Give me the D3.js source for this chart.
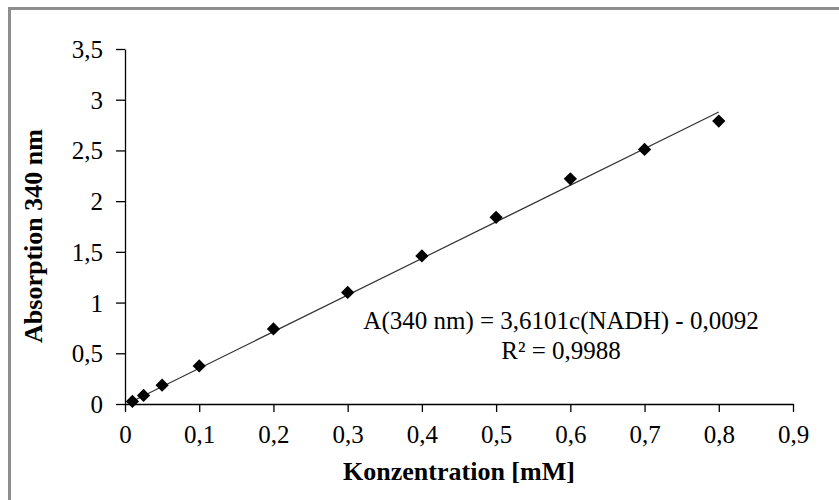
<!DOCTYPE html>
<html>
<head>
<meta charset="utf-8">
<script src="https://cdn.jsdelivr.net/npm/d3@7"></script>
<style>
  body { margin: 0; background: #fff; }
  svg { display: block; font-family: "Liberation Serif", "Times New Roman", serif; }
</style>
</head>
<body>
<div id="chart"></div>
<script>
// concentration in mM
const concentrations = [0.01, 0.025, 0.05, 0.1, 0.2, 0.3, 0.4, 0.5, 0.6, 0.7, 0.8]
// measured absorption at 340 nm
const absorptions = [0.025, 0.085, 0.185, 0.375, 0.74, 1.1, 1.46, 1.84, 2.22, 2.51, 2.79]
const xTicks = [0, 0.1, 0.2, 0.3, 0.4, 0.5, 0.6, 0.7, 0.8, 0.9]
const yTicks = [0, 0.5, 1, 1.5, 2, 2.5, 3, 3.5]
const slope = 3.6101
const intercept = -0.0092
const equationLines = ['A(340 nm) = 3,6101c(NADH) - 0,0092', 'R² = 0,9988']

const WIDTH = 839
const HEIGHT = 500

const fmt = (d) => String(d).replace('.', ',')

const svg = d3.select('#chart').append('svg')
  .attr('width', WIDTH)
  .attr('height', HEIGHT)

// outer chart frame (runs off the right and bottom edge)
svg.append('rect')
  .attr('x', 9.5).attr('y', 8.5)
  .attr('width', 1000).attr('height', 1000)
  .attr('fill', 'none')
  .attr('stroke', '#8e8e8e')
  .attr('stroke-width', 3)

const x = d3.scaleLinear().domain([0, 0.9]).range([125, 793])
const y = d3.scaleLinear().domain([0, 3.5]).range([404, 49])

const xAxis = svg.append('g')
  .attr('transform', `translate(0,${y(0)})`)
  .call(d3.axisBottom(x).tickValues(xTicks).tickFormat(fmt).tickSizeInner(8).tickSizeOuter(0).tickPadding(13))

const yAxis = svg.append('g')
  .attr('transform', `translate(${x(0)},0)`)
  .call(d3.axisLeft(y).tickValues(yTicks).tickFormat(fmt).tickSizeInner(9).tickSizeOuter(0).tickPadding(13))

for (const ax of [xAxis, yAxis]) {
  ax.select('.domain').attr('stroke', '#000').attr('stroke-width', 1.3)
  ax.selectAll('.tick line').attr('stroke', '#000').attr('stroke-width', 1.3)
  ax.selectAll('.tick text')
    .attr('fill', '#000')
    .style('font-family', '"Liberation Serif", serif')
    .style('font-size', '25px')
}
yAxis.selectAll('.tick text').attr('dy', '0.34em')

// linear trendline over the data range
const xMin = d3.min(concentrations)
const xMax = d3.max(concentrations)
svg.append('line')
  .attr('x1', x(xMin)).attr('y1', y(slope * xMin + intercept))
  .attr('x2', x(xMax)).attr('y2', y(slope * xMax + intercept))
  .attr('stroke', '#333')
  .attr('stroke-width', 1.2)

// data points as diamonds
svg.append('g')
  .selectAll('path')
  .data(concentrations.map((c, i) => [c, absorptions[i]]))
  .enter()
  .append('path')
  .attr('d', d3.symbol(d3.symbolSquare, 88))
  .attr('transform', (d) => `translate(${x(d[0])},${y(d[1])}) rotate(45)`)
  .attr('fill', '#000')

// trendline equation
svg.append('g')
  .selectAll('text')
  .data(equationLines)
  .enter()
  .append('text')
  .attr('x', 561)
  .attr('y', (d, i) => 329 + i * 30)
  .attr('text-anchor', 'middle')
  .style('font-size', '25px')
  .text((d) => d)

// axis titles
svg.append('text')
  .attr('x', 459)
  .attr('y', 480)
  .attr('text-anchor', 'middle')
  .style('font-size', '26px')
  .style('font-weight', 'bold')
  .text('Konzentration [mM]')

svg.append('text')
  .attr('transform', 'translate(42,236) rotate(-90)')
  .attr('text-anchor', 'middle')
  .style('font-size', '26px')
  .style('font-weight', 'bold')
  .text('Absorption 340 nm')
</script>
</body>
</html>
